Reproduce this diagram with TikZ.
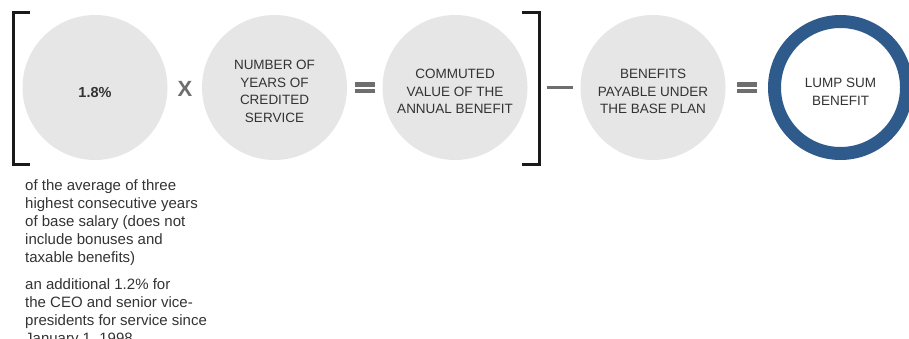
\documentclass[tikz,border=0pt]{standalone}
\usepackage{fontspec}
\setmainfont{Liberation Sans}
\definecolor{discgray}{HTML}{E6E6E6}
\definecolor{txtgray}{HTML}{333333}
\definecolor{opgray}{HTML}{6E6E6E}
\definecolor{ringblue}{HTML}{2F5B8C}
\definecolor{brk}{HTML}{1A1A1A}
\begin{document}
\begin{tikzpicture}[x=1pt,y=-1pt,
  disc/.style={circle,fill=discgray,minimum size=145pt,inner sep=0pt},
  ring/.style={circle,draw=ringblue,line width=13pt,fill=white,minimum size=132pt,inner sep=0pt},
  ctext/.style={align=center,text=txtgray,font=\fontsize{13.5}{17.5}\selectfont,inner sep=0pt},
  ptext/.style={anchor=base west,inner sep=0pt,text=txtgray,font=\fontsize{15}{18}\selectfont},
  opline/.style={draw=opgray,line width=4.3pt},
  brack/.style={draw=brk,line width=3pt}]
\useasboundingbox (0,0) rectangle (909,339);
% circles
\node[disc] (c1) at (95,87.5) {};
\node[disc] (c2) at (274.5,87.5) {};
\node[disc] (c3) at (455,87.5) {};
\node[disc] (c4) at (653,87.5) {};
\node[ring] (c5) at (840.5,87.5) {};
% circle texts
\node[ctext,font=\bfseries\fontsize{14.5}{17.5}\selectfont] (t1) at ([yshift=-5pt]c1.center) {1.8\%};
\node[ctext] (t2) at ([yshift=-4pt]c2.center) {NUMBER OF\\YEARS OF\\CREDITED\\SERVICE};
\node[ctext] (t3) at ([yshift=-4pt]c3.center) {COMMUTED\\VALUE OF THE\\ANNUAL BENEFIT};
\node[ctext] (t4) at ([yshift=-4pt]c4.center) {BENEFITS\\PAYABLE UNDER\\THE BASE PLAN};
\node[ctext] (t5) at ([yshift=-4.5pt]c5.center) {LUMP SUM\\BENEFIT};
% operators
\node[text=opgray,font=\bfseries\fontsize{22}{22}\selectfont,inner sep=0pt] (op1) at (185,89) {X};
\draw[opline] (355,84.5) -- (375,84.5) (355,91.2) -- (375,91.2);
\draw[draw=opgray,line width=3pt] (546.7,87.7) -- (572.7,87.7);
\draw[opline] (737,84.5) -- (757,84.5) (737,91.2) -- (757,91.2);
% brackets
\draw[brack] (30,12.7) -- (13.3,12.7) -- (13.3,164.3) -- (30,164.3);
\draw[brack] (521.7,12.7) -- (539,12.7) -- (539,164.3) -- (521.7,164.3);
% lower texts
\node[ptext] (p1) at (25,190) {\parbox[t]{200pt}{of the average of three\\highest consecutive years\\of base salary (does not\\include bonuses and\\taxable benefits)}};
\node[ptext] (p2) at (25,289.5) {\parbox[t]{200pt}{an additional 1.2\% for\\the CEO and senior vice-\\presidents for service since\\January 1, 1998}};
\end{tikzpicture}
\end{document}
